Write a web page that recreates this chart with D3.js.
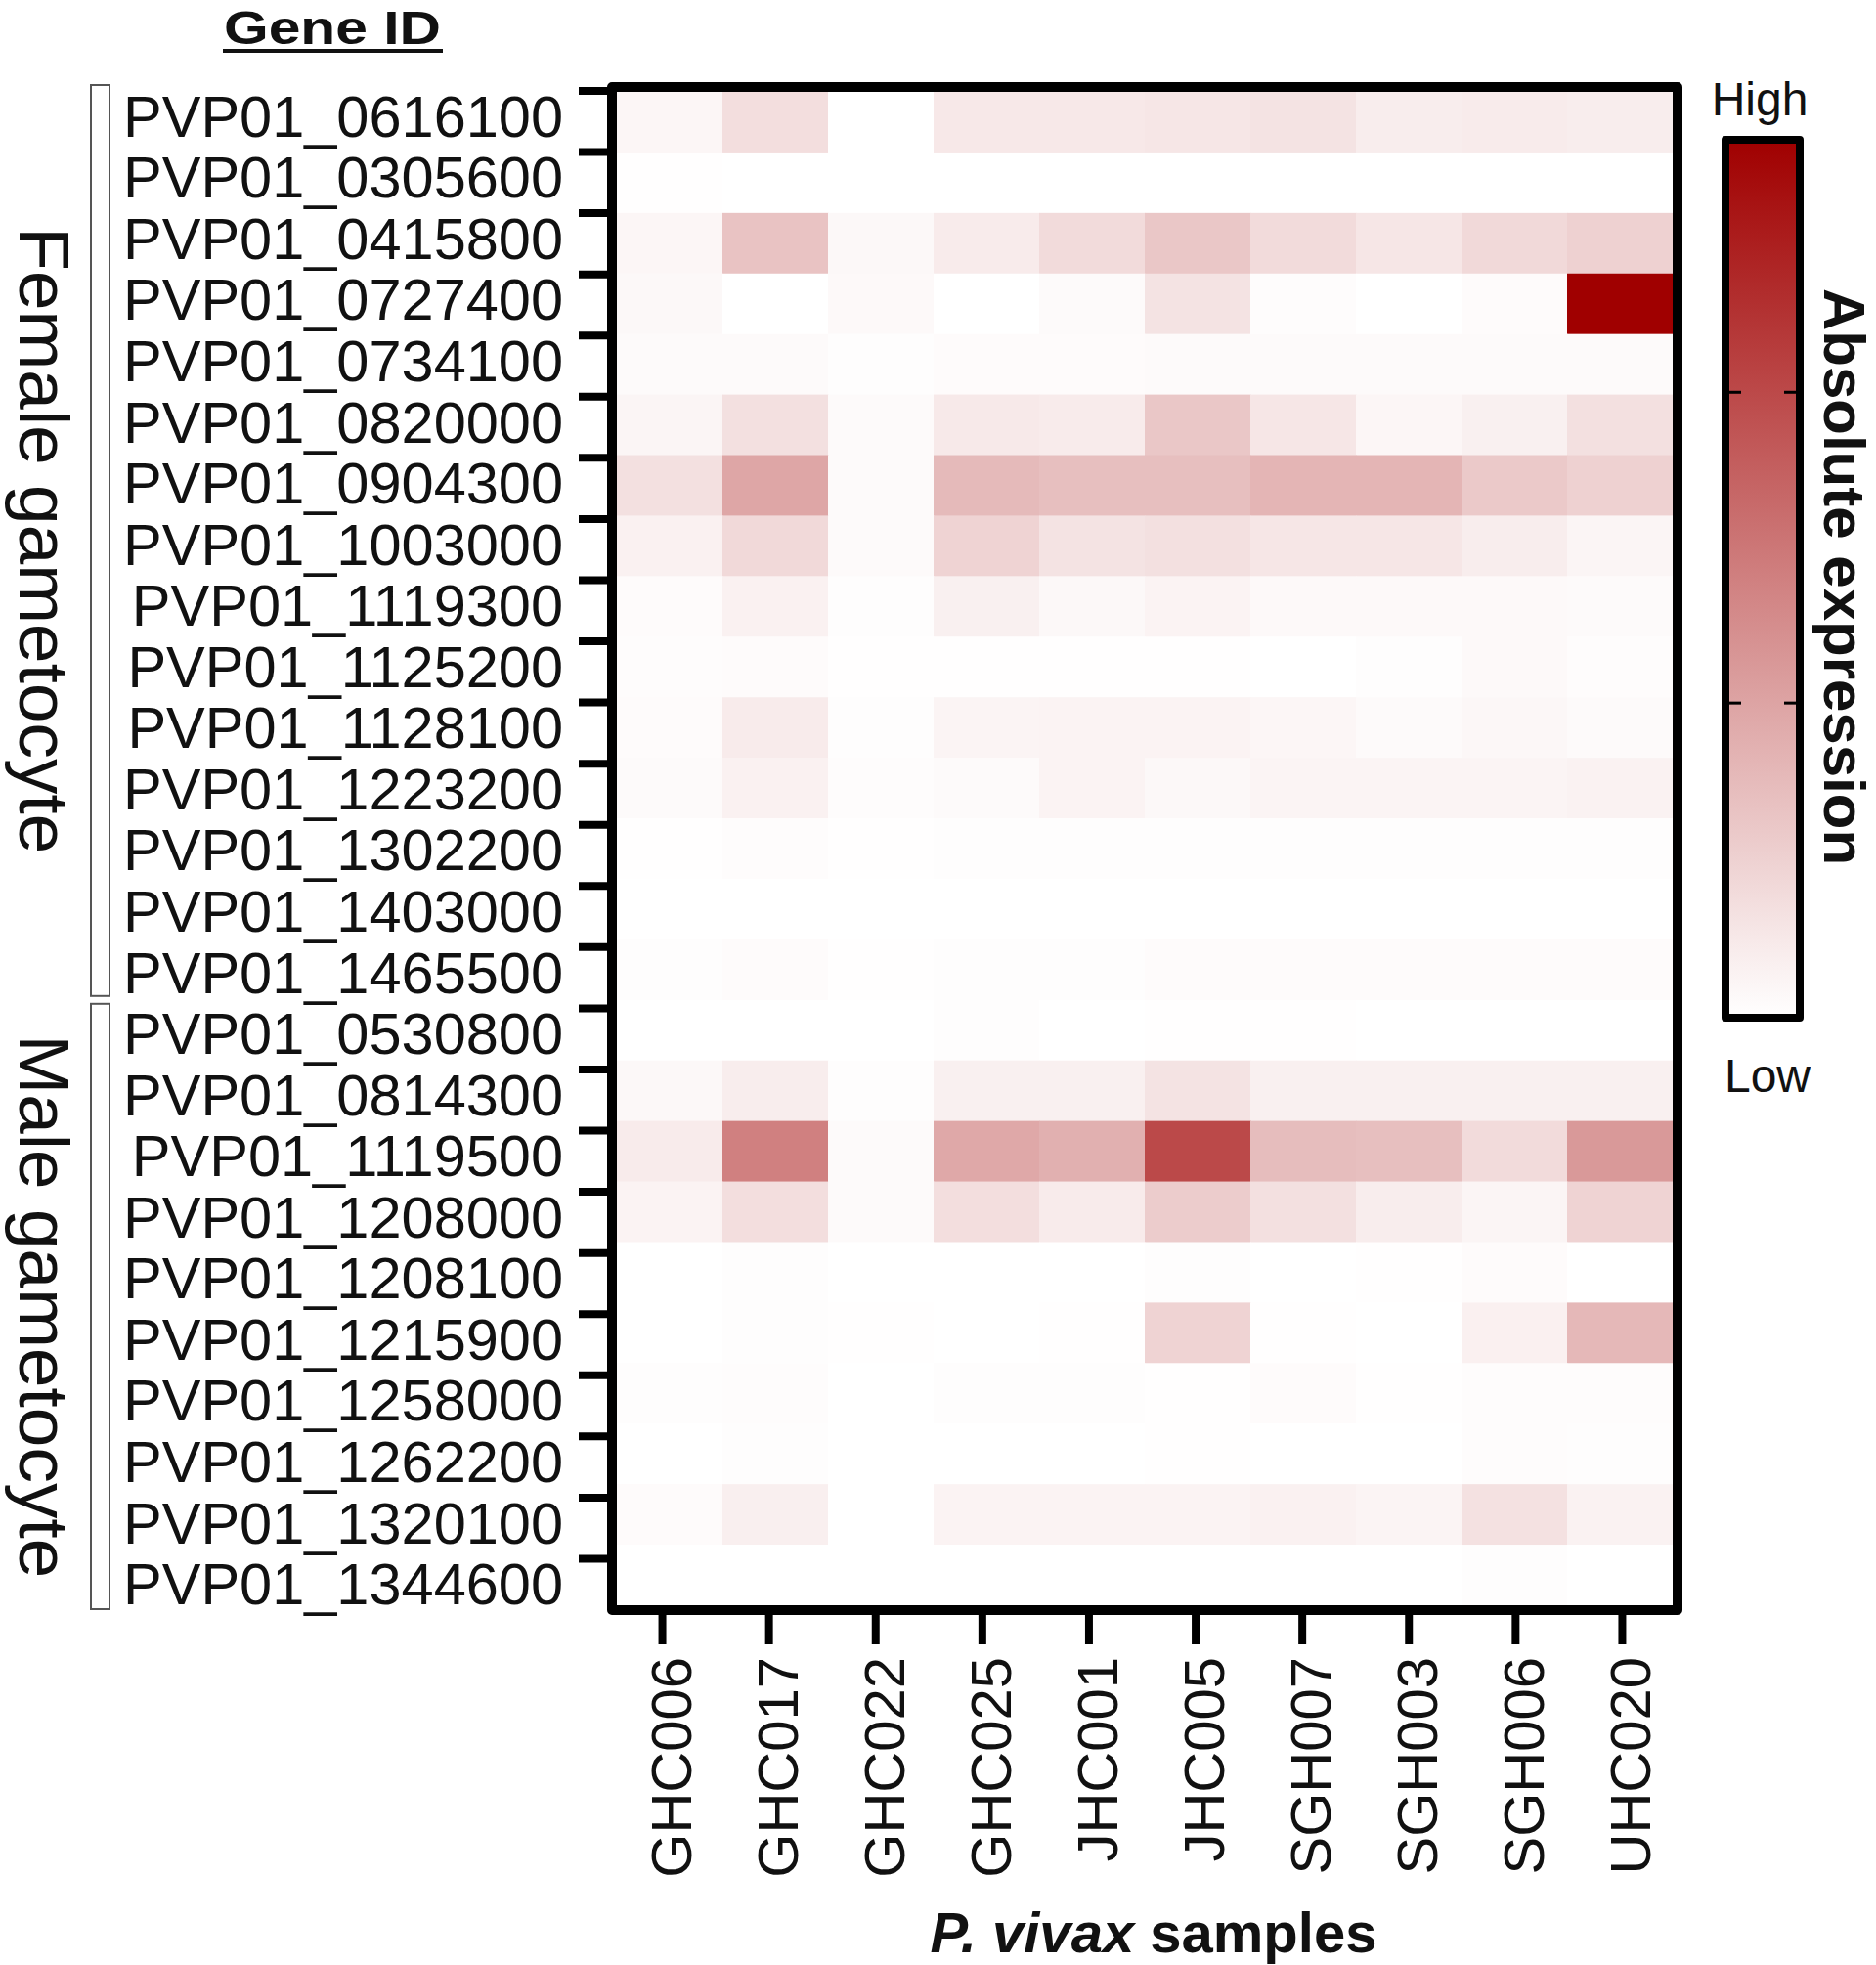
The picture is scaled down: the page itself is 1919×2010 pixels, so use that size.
<!DOCTYPE html>
<html lang="en">
<head>
<meta charset="utf-8">
<script src="https://d3js.org/d3.v7.min.js"></script>
<style>
  body { margin: 0; background: #fff; }
  svg { display: block; font-family: "Liberation Sans", Arial, sans-serif; }
</style>
</head>
<body>
<div id="chart"></div>
<script>
// gene ids, top to bottom
var femaleGenes = ["PVP01_0616100", "PVP01_0305600", "PVP01_0415800", "PVP01_0727400",
  "PVP01_0734100", "PVP01_0820000", "PVP01_0904300", "PVP01_1003000", "PVP01_1119300",
  "PVP01_1125200", "PVP01_1128100", "PVP01_1223200", "PVP01_1302200", "PVP01_1403000",
  "PVP01_1465500"];
var maleGenes = ["PVP01_0530800", "PVP01_0814300", "PVP01_1119500", "PVP01_1208000",
  "PVP01_1208100", "PVP01_1215900", "PVP01_1258000", "PVP01_1262200", "PVP01_1320100",
  "PVP01_1344600"];

var samples = ["GHC006", "GHC017", "GHC022", "GHC025", "JHC001",
  "JHC005", "SGH007", "SGH003", "SGH006", "UHC020"];

// absolute expression, one row per gene, columns follow samples
var femaleValues = [
  [0.10, 0.36, 0.00, 0.25, 0.25, 0.27, 0.31, 0.20, 0.22, 0.20],
  [0.01, 0.00, 0.00, 0.00, 0.00, 0.00, 0.00, 0.00, 0.00, 0.00],
  [0.10, 0.66, 0.08, 0.22, 0.39, 0.62, 0.39, 0.28, 0.42, 0.50],
  [0.08, 0.00, 0.07, 0.00, 0.06, 0.31, 0.03, 0.00, 0.04, 2.80],
  [0.06, 0.06, 0.02, 0.04, 0.04, 0.05, 0.05, 0.05, 0.06, 0.06],
  [0.11, 0.34, 0.05, 0.24, 0.22, 0.62, 0.28, 0.10, 0.17, 0.34],
  [0.34, 0.98, 0.05, 0.76, 0.70, 0.70, 0.81, 0.81, 0.59, 0.50],
  [0.15, 0.42, 0.05, 0.48, 0.31, 0.34, 0.28, 0.28, 0.20, 0.11],
  [0.04, 0.15, 0.02, 0.17, 0.08, 0.13, 0.07, 0.07, 0.07, 0.05],
  [0.03, 0.04, 0.01, 0.01, 0.01, 0.01, 0.00, 0.02, 0.07, 0.03],
  [0.04, 0.22, 0.02, 0.12, 0.13, 0.13, 0.10, 0.05, 0.09, 0.05],
  [0.05, 0.15, 0.03, 0.06, 0.13, 0.08, 0.12, 0.12, 0.12, 0.14],
  [0.01, 0.03, 0.01, 0.02, 0.02, 0.02, 0.02, 0.02, 0.02, 0.02],
  [0.00, 0.00, 0.00, 0.00, 0.00, 0.00, 0.00, 0.00, 0.00, 0.00],
  [0.02, 0.04, 0.01, 0.02, 0.02, 0.04, 0.04, 0.04, 0.04, 0.04]
];
var maleValues = [
  [0.00, 0.00, 0.00, 0.02, 0.00, 0.01, 0.01, 0.00, 0.00, 0.00],
  [0.08, 0.20, 0.02, 0.17, 0.17, 0.31, 0.17, 0.17, 0.17, 0.17],
  [0.22, 1.40, 0.05, 0.95, 0.87, 2.00, 0.73, 0.70, 0.39, 1.12],
  [0.13, 0.36, 0.05, 0.36, 0.22, 0.56, 0.34, 0.20, 0.11, 0.48],
  [0.00, 0.02, 0.00, 0.00, 0.00, 0.02, 0.00, 0.01, 0.04, 0.00],
  [0.00, 0.02, 0.01, 0.00, 0.01, 0.48, 0.01, 0.00, 0.16, 0.78],
  [0.02, 0.03, 0.00, 0.02, 0.02, 0.01, 0.04, 0.01, 0.03, 0.03],
  [0.00, 0.02, 0.00, 0.00, 0.00, 0.01, 0.00, 0.00, 0.03, 0.02],
  [0.04, 0.18, 0.00, 0.13, 0.13, 0.13, 0.15, 0.12, 0.33, 0.14],
  [0.00, 0.00, 0.00, 0.00, 0.00, 0.00, 0.00, 0.00, 0.02, 0.00]
];

var colorTicks = [1, 2];
var colorMax = 2.8;

var genes = femaleGenes.concat(maleGenes);
var values = femaleValues.concat(maleValues);

var cells = [];
genes.forEach(function (g, i) {
  samples.forEach(function (s, j) {
    cells.push({ gene: g, sample: s, value: values[i][j] });
  });
});

var W = 1919, H = 2010;
var plotLeft = 631, plotRight = 1711, plotTop = 94, plotBottom = 1642;

var svg = d3.select("#chart").append("svg")
  .attr("width", W).attr("height", H);

var x = d3.scaleBand().domain(samples).range([plotLeft, plotRight]);
var y = d3.scaleBand().domain(genes).range([plotTop, plotBottom]);
// the axis ticks sit on a slightly wider grid than the cells
var xTick = d3.scaleBand().domain(samples).range([623, 1714]);
var yTick = d3.scaleBand().domain(genes).range([90, 1654]);
var color = d3.scaleLinear().domain([0, colorMax]).range(["#ffffff", "#a00000"]);

// cells
svg.append("g").selectAll("rect")
  .data(cells)
  .enter().append("rect")
  .attr("x", function (d) { return x(d.sample); })
  .attr("y", function (d) { return y(d.gene); })
  .attr("width", x.bandwidth() + 0.5)
  .attr("height", y.bandwidth() + 0.5)
  .attr("fill", function (d) { return color(d.value); });

// frame
svg.append("rect")
  .attr("x", plotLeft - 5).attr("y", plotTop - 5)
  .attr("width", plotRight - plotLeft + 10).attr("height", plotBottom - plotTop + 10)
  .attr("fill", "none").attr("stroke", "#000")
  .attr("stroke-width", 10).attr("stroke-linejoin", "round");

// y ticks at the top of each row
svg.append("g").selectAll("line")
  .data(genes)
  .enter().append("line")
  .attr("x1", 592).attr("x2", plotLeft - 5)
  .attr("y1", function (d) { return yTick(d) + 3; })
  .attr("y2", function (d) { return yTick(d) + 3; })
  .attr("stroke", "#000").attr("stroke-width", 8);

// gene labels
svg.append("g").selectAll("text")
  .data(genes)
  .enter().append("text")
  .attr("x", 576)
  .attr("y", function (d) { return yTick(d) + yTick.bandwidth() / 2 - 3; })
  .attr("dy", "0.36em")
  .attr("text-anchor", "end")
  .style("font-size", "59.5px")
  .style("fill", "#111")
  .text(function (d) { return d; });

// x ticks
svg.append("g").selectAll("line")
  .data(samples)
  .enter().append("line")
  .attr("x1", function (d) { return xTick(d) + xTick.bandwidth() / 2; })
  .attr("x2", function (d) { return xTick(d) + xTick.bandwidth() / 2; })
  .attr("y1", plotBottom + 5).attr("y2", 1682)
  .attr("stroke", "#000").attr("stroke-width", 8);

// sample labels
svg.append("g").selectAll("text")
  .data(samples)
  .enter().append("text")
  .attr("transform", function (d) {
    return "translate(" + (xTick(d) + xTick.bandwidth() / 2 + 29) + ",1695) rotate(-90)";
  })
  .attr("text-anchor", "end")
  .style("font-size", "58px")
  .style("fill", "#111")
  .text(function (d) { return d; });

// x title
var xt = svg.append("text")
  .attr("x", 1180).attr("y", 1997)
  .attr("text-anchor", "middle")
  .style("font-size", "58px").style("font-weight", "bold").style("fill", "#111");
xt.append("tspan").style("font-style", "italic").text("P. vivax");
xt.append("tspan").text(" samples");

// Gene ID header
svg.append("text")
  .attr("x", 340).attr("y", 45)
  .attr("text-anchor", "middle")
  .attr("textLength", 222).attr("lengthAdjust", "spacingAndGlyphs")
  .style("font-size", "48px").style("font-weight", "bold").style("fill", "#111")
  .text("Gene ID");
svg.append("line")
  .attr("x1", 228).attr("x2", 453).attr("y1", 52).attr("y2", 52)
  .attr("stroke", "#111").attr("stroke-width", 4);

// group brackets and labels
var groups = [
  { name: "Female gametocyte", genes: femaleGenes },
  { name: "Male gametocyte", genes: maleGenes }
];
groups.forEach(function (g, i) {
  var y0 = y(g.genes[0]) - (i === 0 ? 7 : -4);
  var y1 = y(g.genes[g.genes.length - 1]) + y.bandwidth() + (i === 0 ? -4 : 4);
  svg.append("rect")
    .attr("x", 93).attr("y", y0)
    .attr("width", 19).attr("height", y1 - y0)
    .attr("fill", "none").attr("stroke", "#555").attr("stroke-width", 2);
  svg.append("text")
    .attr("transform", "translate(20," + ((y0 + y1) / 2) + ") rotate(90)")
    .attr("text-anchor", "middle")
    .style("font-size", "73px").style("fill", "#111")
    .text(g.name);
});

// colour bar
var cbX = 1765, cbW = 76, cbTop = 143, cbBottom = 1041;
var cy = d3.scaleLinear().domain([0, colorMax]).range([cbBottom - 4, cbTop + 4]);

var grad = svg.append("defs").append("linearGradient")
  .attr("id", "cbar").attr("x1", 0).attr("x2", 0).attr("y1", 1).attr("y2", 0);
grad.selectAll("stop")
  .data(d3.range(0, 1.0001, 0.1))
  .enter().append("stop")
  .attr("offset", function (d) { return d; })
  .attr("stop-color", function (d) { return color(d * colorMax); });

svg.append("rect")
  .attr("x", cbX).attr("y", cbTop)
  .attr("width", cbW).attr("height", cbBottom - cbTop)
  .attr("fill", "url(#cbar)")
  .attr("stroke", "#000").attr("stroke-width", 8).attr("stroke-linejoin", "round");

colorTicks.forEach(function (t) {
  svg.append("line")
    .attr("x1", cbX + 4).attr("x2", cbX + 16)
    .attr("y1", cy(t)).attr("y2", cy(t))
    .attr("stroke", "#000").attr("stroke-width", 3);
  svg.append("line")
    .attr("x1", cbX + cbW - 16).attr("x2", cbX + cbW - 4)
    .attr("y1", cy(t)).attr("y2", cy(t))
    .attr("stroke", "#000").attr("stroke-width", 3);
});

svg.append("text")
  .attr("x", 1800).attr("y", 118)
  .attr("text-anchor", "middle")
  .style("font-size", "48px").style("fill", "#111")
  .text("High");
svg.append("text")
  .attr("x", 1808).attr("y", 1117)
  .attr("text-anchor", "middle")
  .style("font-size", "48px").style("fill", "#111")
  .text("Low");

svg.append("text")
  .attr("transform", "translate(1866,590) rotate(90)")
  .attr("text-anchor", "middle")
  .style("font-size", "60px").style("font-weight", "bold").style("fill", "#111")
  .text("Absolute expression");
</script>
</body>
</html>
